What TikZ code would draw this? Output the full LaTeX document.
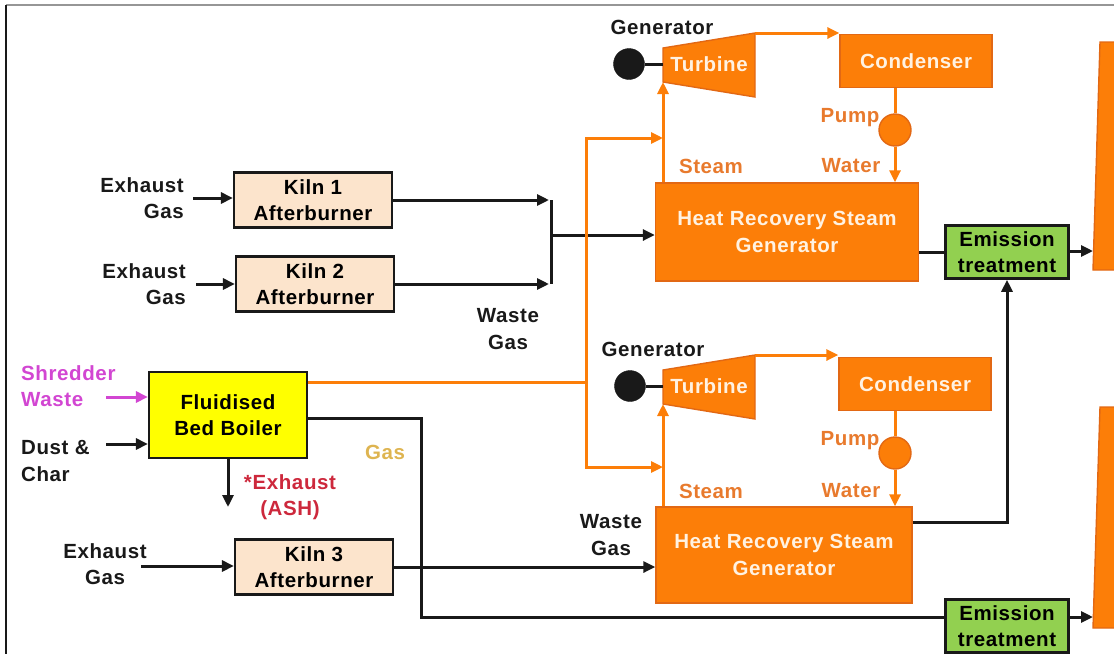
\documentclass[tikz,border=0pt]{standalone}
\usepackage{fontspec}
\setmainfont{Liberation Sans}
\newfontfamily\wfont[LetterSpace=3.0]{Liberation Sans}
\usepackage{tikz}
\usetikzlibrary{arrows.meta, positioning, calc}
\definecolor{mydark}{RGB}{25,25,25}
\definecolor{myorange}{RGB}{252,126,8}
\definecolor{orframe}{RGB}{226,104,20}
\definecolor{ortext}{RGB}{232,122,45}
\definecolor{kilnfill}{RGB}{252,228,204}
\definecolor{boilfill}{RGB}{255,255,0}
\definecolor{emisfill}{RGB}{146,208,80}
\definecolor{mymagenta}{RGB}{210,70,210}
\definecolor{myred}{RGB}{205,40,60}
\definecolor{mygold}{RGB}{222,180,80}
\definecolor{mycream}{RGB}{255,242,226}
\definecolor{mgframe}{RGB}{150,150,150}
\newcommand{\dfont}{\wfont\fontsize{20.5}{26.5}\selectfont\bfseries}
\tikzset{
  kiln/.style={rectangle, draw=mydark, fill=kilnfill, minimum width=158pt,
    minimum height=55pt, align=center, font=\dfont, line width=2.2pt, inner sep=0pt},
  boiler/.style={rectangle, draw=mydark, fill=boilfill, minimum width=158pt,
    minimum height=86pt, align=center, font=\dfont, line width=2.2pt, inner sep=0pt},
  hrsg/.style={rectangle, draw=orframe, fill=myorange, align=center,
    font=\dfont, text=mycream, line width=1.4pt, inner sep=0pt},
  condbox/.style={rectangle, draw=orframe, fill=myorange, minimum width=152pt,
    minimum height=53pt, font=\dfont, text=mycream, line width=1.4pt, inner sep=0pt},
  emis/.style={rectangle, draw=mydark, fill=emisfill, minimum width=123pt,
    minimum height=53pt, align=center, font=\dfont, line width=2.6pt, inner sep=0pt},
  pumpnode/.style={circle, draw=orframe, fill=myorange, minimum size=32pt,
    inner sep=0pt, line width=1.4pt},
  gennode/.style={circle, draw=mydark, fill=mydark, minimum size=31pt, inner sep=0pt},
  lbl/.style={font=\dfont, text=mydark, align=center, inner sep=2pt},
  olbl/.style={font=\dfont, text=ortext, align=center, inner sep=2pt},
  arrow/.style={-{Triangle[length=12pt,width=11pt]}, line width=3pt, color=mydark},
  line/.style={line width=3pt, color=mydark},
  oarrow/.style={-{Triangle[length=12pt,width=11pt]}, line width=3pt, color=myorange},
  oline/.style={line width=3pt, color=myorange},
  marrow/.style={-{Triangle[length=12pt,width=11pt]}, line width=3pt, color=mymagenta},
  stack/.style={fill=myorange, draw=orframe, line width=1.4pt}
}

\begin{document}
\begin{tikzpicture}[x=1pt, y=-1pt]
  \useasboundingbox (0,0) rectangle (1114,654);
  \draw[mgframe, line width=1.5pt] (6,5) -- (1114,5);
  \draw[mydark, line width=1.5pt] (6,5) -- (6,654);

  \filldraw[stack] (1100,42) -- (1118,42) -- (1118,270) -- (1093,270) -- cycle;
  \filldraw[stack] (1100,407) -- (1118,407) -- (1118,628) -- (1093,628) -- cycle;

  \filldraw[stack] (663,48) coordinate (t1lt) -- (755,33) coordinate (t1rt)
    -- (755,97) -- (663,82) coordinate (t1lb) -- cycle;
  \filldraw[stack] (663,370) coordinate (t2lt) -- (755,355) coordinate (t2rt)
    -- (755,419) -- (663,404) coordinate (t2lb) -- cycle;
  \node[font=\dfont, text=mycream] (turb1) at (709,64) {Turbine};
  \node[font=\dfont, text=mycream] (turb2) at (709,386) {Turbine};
  \coordinate (t1l) at (663,64);
  \coordinate (t2l) at (663,386);

  \node[kiln] (kiln1) at (313,200) {Kiln 1\\Afterburner};
  \node[kiln] (kiln2) at (315,284) {Kiln 2\\Afterburner};
  \node[kiln] (kiln3) at (314,567) {Kiln 3\\Afterburner};
  \node[boiler] (boiler) at (228,415) {Fluidised\\Bed Boiler};
  \node[hrsg, minimum width=263pt, minimum height=98pt] (hrsg1) at (787,232) {Heat Recovery Steam\\Generator};
  \node[hrsg, minimum width=256pt, minimum height=96pt] (hrsg2) at (784,555) {Heat Recovery Steam\\Generator};
  \node[condbox] (cond1) at (916,61) {Condenser};
  \node[condbox] (cond2) at (915,384) {Condenser};
  \node[pumpnode] (pump1) at (895,130) {};
  \node[pumpnode] (pump2) at (895,453) {};
  \node[gennode] (gen1) at (629,64) {};
  \node[gennode] (gen2) at (630,386) {};
  \node[emis] (emis1) at (1007,252) {Emission\\treatment};
  \node[emis] (emis2) at (1007,626) {Emission\\treatment};

  \node[lbl, align=right, anchor=east] (ex1) at (186,198) {Exhaust\\Gas};
  \node[lbl, align=right, anchor=east] (ex2) at (188,284) {Exhaust\\Gas};
  \node[lbl] (ex3) at (105,564) {Exhaust\\Gas};
  \node[lbl, align=left, anchor=west, text=mymagenta] (shred) at (19,386) {Shredder\\Waste};
  \node[lbl, align=left, anchor=west] (dust) at (19,461) {Dust \&\\Char};
  \node[lbl, text=myred] (ash) at (290,497) {*Exhaust\\(ASH)};
  \node[lbl, text=mygold] (gaslbl) at (385,452) {Gas};
  \node[lbl] (waste1) at (508,329) {Waste\\Gas};
  \node[lbl] (waste2) at (611,535) {Waste\\Gas};
  \node[lbl] (genlbl1) at (662,27) {Generator};
  \node[lbl] (genlbl2) at (653,349) {Generator};
  \node[olbl] (steam1) at (711,166) {Steam};
  \node[olbl] (water1) at (851,166) {Water};
  \node[olbl] (pumplbl1) at (850,118) {Pump};
  \node[olbl] (steam2) at (711,491) {Steam};
  \node[olbl] (water2) at (851,491) {Water};
  \node[olbl] (pumplbl2) at (850,441) {Pump};

  \coordinate (merge) at (551,235);
  \coordinate (ex3in) at (141,566);
  \coordinate (shin) at (106,397);
  \coordinate (dustin) at (106,444);
  \coordinate (ashout) at (228,507);
  \coordinate (orsplit) at (586,382);
  \coordinate (feed1) at (663,138);
  \coordinate (feed2) at (663,467);
  \coordinate (gas1) at (421,418);
  \coordinate (gas2) at (421,617);
  \coordinate (h2out) at (1007,522);
  \coordinate (stack1in) at (1093,251);
  \coordinate (stack2in) at (1093,617);

  \draw[arrow] ([xshift=7pt]ex1.east) -- (ex1.east -| kiln1.west);
  \draw[arrow] ([xshift=8pt]ex2.east) -- (ex2.east -| kiln2.west);
  \draw[arrow] (ex3in) -- (ex3in -| kiln3.west);
  \draw[marrow] (shin) -- (shin -| boiler.west);
  \draw[arrow] (dustin) -- (dustin -| boiler.west);
  \draw[arrow] (boiler.south) -- (ashout);

  \draw[arrow] (kiln1.east) -- ([xshift=-2pt]kiln1.east -| merge);
  \draw[arrow] (kiln2.east) -- ([xshift=-2pt]kiln2.east -| merge);
  \draw[line] (merge |- kiln1.east) -- (merge |- kiln2.east);
  \draw[arrow] (merge) -- (merge -| hrsg1.west);
  \draw[arrow] (kiln3.east) -- (kiln3.east -| hrsg2.west);

  \draw[line] (boiler.east |- gas1) -- (gas1) -- (gas2) -- (gas2 -| emis2.west);
  \draw[oline] (boiler.east |- orsplit) -- (orsplit);
  \draw[oarrow] (orsplit) |- (feed1);
  \draw[oarrow] (orsplit) |- (feed2);

  \draw[oarrow] (hrsg1.north -| t1lb) -- (t1lb);
  \draw[oarrow] (hrsg2.north -| t2lb) -- (t2lb);
  \draw[oarrow] (t1rt) -- (t1rt -| cond1.west);
  \draw[oarrow] (t2rt) -- (t2rt -| cond2.west);
  \draw[oline] (cond1.south -| pump1) -- (pump1.north);
  \draw[oarrow] (pump1.south) -- (pump1 |- hrsg1.north);
  \draw[oline] (cond2.south -| pump2) -- (pump2.north);
  \draw[oarrow] (pump2.south) -- (pump2 |- hrsg2.north);
  \draw[line] (gen1) -- (t1l);
  \draw[line] (gen2) -- (t2l);

  \draw[line] (hrsg1.east |- emis1.west) -- (emis1.west);
  \draw[arrow] (emis1.east |- stack1in) -- (stack1in);
  \draw[arrow] (hrsg2.east |- h2out) -- (h2out) -- (emis1.south);
  \draw[arrow] (emis2.east |- stack2in) -- (stack2in);
\end{tikzpicture}
\end{document}
